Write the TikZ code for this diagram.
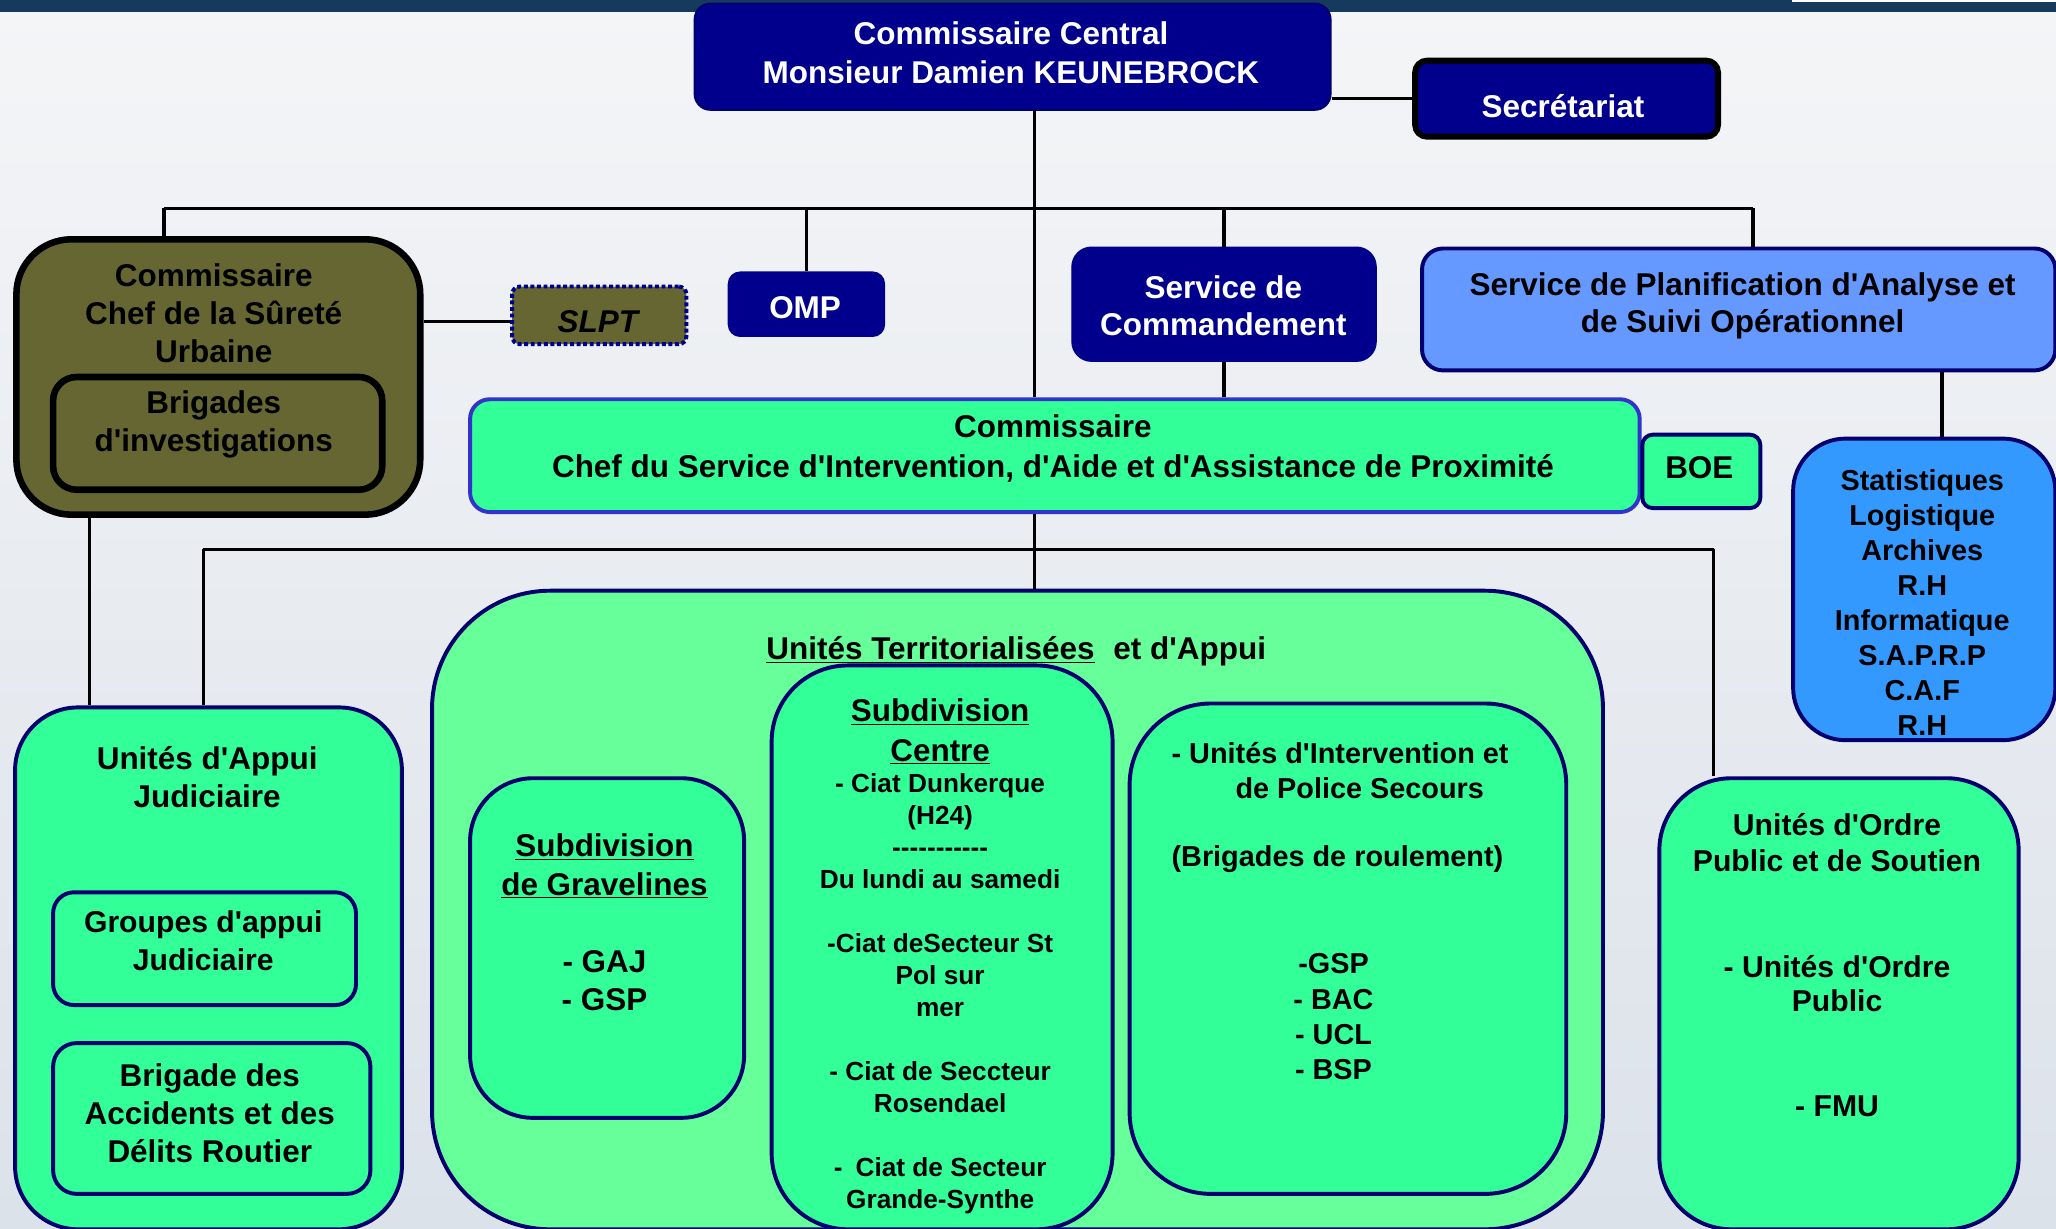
\documentclass[tikz,border=0pt]{standalone}
\usepackage{fontspec}
\newfontfamily\arial{Liberation Sans}
\definecolor{navy}{RGB}{0,0,140}
\definecolor{navyb}{RGB}{0,0,110}
\definecolor{olivebox}{RGB}{102,102,51}
\definecolor{greenbox}{RGB}{51,255,153}
\definecolor{lightgreen}{RGB}{102,255,153}
\definecolor{lblue}{RGB}{102,153,255}
\definecolor{mblue}{RGB}{51,153,255}
\definecolor{bborder}{RGB}{51,51,204}
\definecolor{topbar}{RGB}{22,58,94}
\newcommand\ulx[1]{\underline{#1}}
\begin{document}
\begin{tikzpicture}[x=1pt,y=-1pt,
  box/.style={draw=navyb, line width=3pt, rectangle, inner sep=0pt, anchor=north west},
  fs/.style 2 args={font={\arial\bfseries\fontsize{#1}{#2}\selectfont}},
  txt/.style={inner sep=0pt, align=center, text=black, fs={24}{29}, yshift=-2pt},
  wtxt/.style={txt, text=white},
  conn/.style={draw=black, line width=2.5pt}
]
\useasboundingbox (0,0) rectangle (1568,937);
\clip (0,0) rectangle (1568,937);
% background
\fill[top color={rgb,255:red,244;green,245;blue,247}, bottom color={rgb,255:red,220;green,226;blue,234}] (0,0) rectangle (1568,937);
\fill[topbar] (0,0) rectangle (1568,9);
\fill[white] (1367,0) rectangle (1568,1.5);

% boxes
\node[box, fill=navy, draw=navyb, line width=1.5pt, rounded corners=12pt, minimum width=485pt, minimum height=81pt] (cc) at (529,2) {};
\node[box, fill=navy, draw=black, line width=4.5pt, rounded corners=9pt, minimum width=231pt, minimum height=58pt] (sec) at (1077,44) {};
\node[box, fill=olivebox, draw=black, line width=5pt, rounded corners=42pt, minimum width=308pt, minimum height=210pt] (sur) at (10,180) {};
\node[box, fill=olivebox, draw=black, line width=5pt, rounded corners=18pt, minimum width=251pt, minimum height=86pt] (brig) at (38,285) {};
\node[box, fill=olivebox, draw=navy, line width=3pt, dotted, rounded corners=6pt, minimum width=133pt, minimum height=44pt] (slpt) at (389,217) {};
\node[box, fill=navy, draw=navy, line width=1pt, rounded corners=9pt, minimum width=119pt, minimum height=49pt] (omp) at (555,207) {};
\node[box, fill=navy, draw=navy, line width=1pt, rounded corners=15pt, minimum width=232pt, minimum height=87pt] (cmd) at (817,188) {};
\node[box, fill=lblue, rounded corners=16pt, minimum width=483pt, minimum height=93pt] (spaos) at (1083,188) {};
\node[box, fill=greenbox, draw=bborder, rounded corners=15pt, minimum width=892pt, minimum height=86pt] (siaap) at (357,303) {};
\node[box, fill=greenbox, rounded corners=8pt, minimum width=90pt, minimum height=56pt] (boe) at (1251,330) {};
\node[box, fill=mblue, rounded corners=40pt, minimum width=200pt, minimum height=230pt] (stat) at (1366,333) {};
\node[box, fill=greenbox, rounded corners=48pt, minimum width=295pt, minimum height=398pt] (uaj) at (10,538) {};
\node[box, fill=greenbox, rounded corners=16pt, minimum width=231pt, minimum height=86pt] (gaj) at (39,679) {};
\node[box, fill=greenbox, rounded corners=18pt, minimum width=242pt, minimum height=115pt] (bad) at (39,794) {};
\node[box, fill=lightgreen, rounded corners=90pt, minimum width=893pt, minimum height=487pt] (ut) at (328,449) {};
\node[box, fill=greenbox, rounded corners=48pt, minimum width=209pt, minimum height=259pt] (grav) at (357,592) {};
\node[box, fill=greenbox, rounded corners=58pt, minimum width=260pt, minimum height=430pt] (ctr) at (587,506) {};
\node[box, fill=greenbox, rounded corners=62pt, minimum width=333pt, minimum height=374pt] (intv) at (860,535) {};
\node[box, fill=greenbox, rounded corners=55pt, minimum width=274pt, minimum height=344pt] (uop) at (1264,592) {};

% connectors
\coordinate (b0) at (789,159);
\coordinate (bL) at (125,159);
\coordinate (bR) at (1337,159);
\coordinate (ys) at (0,245);
\coordinate (xs) at (1481,0);
\coordinate (c1) at (155,419);
\coordinate (c2) at (1307,419);
\coordinate (x68) at (68,0);
\draw[conn] (cc.south -| b0) -- (siaap.north -| b0);
\draw[conn] (bL) -- (bR);
\draw[conn] (bL) -- (sur.north -| bL);
\draw[conn] (omp.north) -- (omp.north |- bL);
\draw[conn] (cmd.north) -- (cmd.north |- bL);
\draw[conn] (bR) -- (spaos.north -| bR);
\draw[conn] (sec.west -| cc.east) -- (sec.west);
\draw[conn] (sur.east |- ys) -- (slpt.west |- ys);
\draw[conn] (cmd.south) -- (cmd.south |- siaap.north);
\draw[conn] (spaos.south -| xs) -- (stat.north -| xs);
\draw[conn] (siaap.south -| b0) -- (ut.north -| b0);
\draw[conn] (c1) -- (c2);
\draw[conn] (c1) -- (uaj.north -| c1);
\draw[conn] (c2) -- (uop.north -| c2);
\draw[conn] (sur.south -| x68) -- (uaj.north -| x68);

% texts
\node[wtxt, fs={24}{30}] (tcc) at (771,38) {Commissaire Central\\Monsieur Damien KEUNEBROCK};
\node[wtxt] (tsec) at (1192,79) {Secrétariat};
\node[txt] (tsur) at (163,237) {Commissaire\\Chef de la Sûreté\\Urbaine};
\node[txt] (tbrig) at (163,321.5) {Brigades\\d'investigations};
\node[txt, font={\arial\bfseries\itshape\fontsize{24}{29}\selectfont}] (tslpt) at (456,243) {SLPT};
\node[wtxt] (tomp) at (614,233) {OMP};
\node[wtxt, fs={24}{28}] (tcmd) at (933,231) {Service de\\Commandement};
\node[txt, fs={24}{28}] (tspaos) at (1329,231) {Service de Planification d'Analyse et\\de Suivi Opérationnel};
\node[txt, fs={24}{30}] (tsiaap) at (803,340) {Commissaire\\Chef du Service d'Intervention, d'Aide et d'Assistance de Proximité};
\node[txt] (tboe) at (1296,355) {BOE};
\node[txt, fs={22}{26.7}] (tstat) at (1466,457.5) {Statistiques\\Logistique\\Archives\\R.H\\Informatique\\S.A.P.R.P\\C.A.F\\R.H};
\node[txt] (tuaj) at (158,590.5) {Unités d'Appui\\Judiciaire};
\node[txt, fs={23}{29}] (tgaj) at (155,715.5) {Groupes d'appui\\Judiciaire};
\node[txt] (tbad) at (160,847) {Brigade des\\Accidents et des\\Délits Routier};
\node[txt] (tut) at (775,495) {\ulx{Unités Territorialisées}\hspace{0.6em}et d'Appui};
\node[txt, fs={24}{29.3}] (tgrav) at (461,701.5) {\ulx{Subdivision}\\\ulx{de Gravelines}\\[29.3pt]- GAJ\\- GSP};
\node[txt, fs={24}{30}] (tctrh) at (717,556) {\ulx{Subdivision}\\\ulx{Centre}};
\node[txt, fs={20}{24.4}] (tctr) at (717,756) {- Ciat Dunkerque\\(H24)\\-\kern0pt-\kern0pt-\kern0pt-\kern0pt-\kern0pt-\kern0pt-\kern0pt-\kern0pt-\kern0pt-\kern0pt-\\Du lundi au samedi\\[24.4pt]-Ciat deSecteur St\\Pol sur\\mer\\[24.4pt]- Ciat de Seccteur\\Rosendael\\[24.4pt]-\hspace{0.5em}Ciat de Secteur\\Grande-Synthe};
\node[txt, fs={22}{27}] (tint1) at (1022,572) {- Unités d'Intervention et};
\node[txt, fs={22}{27}] (tint2) at (1037,599) {de Police Secours};
\node[txt, fs={22}{27}] (tint3) at (1020,653) {(Brigades de roulement)};
\node[txt, fs={22}{27}] (tint4) at (1017,773.5) {-GSP\\- BAC\\- UCL\\- BSP};
\node[txt, fs={23}{27}] (tuop1) at (1401,640.5) {Unités d'Ordre\\Public et de Soutien};
\node[txt, fs={23}{26}] (tuop2) at (1401,748) {- Unités d'Ordre\\Public};
\node[txt, fs={23}{26}] (tuop3) at (1401,842) {- FMU};
\end{tikzpicture}
\end{document}
